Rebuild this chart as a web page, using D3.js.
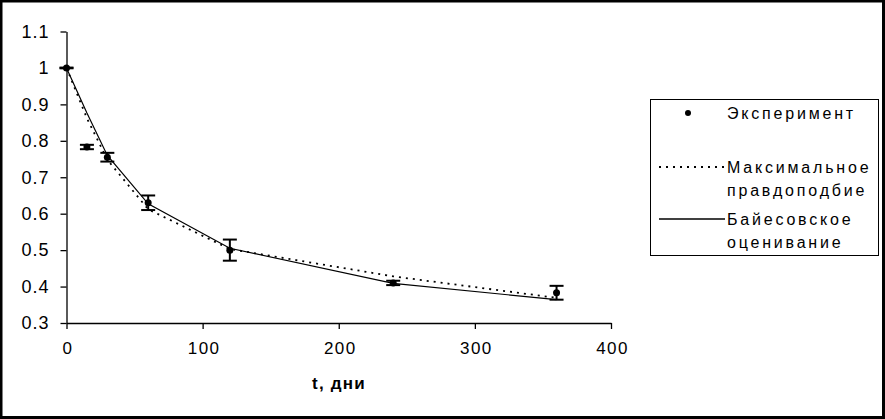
<!DOCTYPE html>
<html lang="ru">
<head>
<meta charset="UTF-8">
<title>chart</title>
<script src="https://cdn.jsdelivr.net/npm/d3@7/dist/d3.min.js"></script>
<style>
  body { margin: 0; background: #fff; }
  svg { display: block; }
  text { font-family: "Liberation Sans", Arial, sans-serif; fill: #000; }
</style>
</head>
<body>
<script>
// experimental times, days
var days = [0, 15, 30, 60, 120, 240, 360];
var experiment = [1.0, 0.783, 0.755, 0.630, 0.500, 0.410, 0.383];
var expError = [0.001, 0.006, 0.012, 0.020, 0.029, 0.006, 0.019];
var maxLikelihood = [1.0, 0.862, 0.748, 0.612, 0.503, 0.428, 0.369];
var bayes = [1.0, 0.876, 0.760, 0.627, 0.505, 0.409, 0.364];

var xTicks = [0, 100, 200, 300, 400];
var yTicks = [0.3, 0.4, 0.5, 0.6, 0.7, 0.8, 0.9, 1, 1.1];
var legendLabels = [["Эксперимент"], ["Максимальное", "правдоподбие"], ["Байесовское", "оценивание"]];

var width = 885, height = 419;

var svg = d3.select('body').append('svg').attr('width', width).attr('height', height);

// outer frame
svg.append('rect').attr('x', 1).attr('y', 1).attr('width', width - 2.5).attr('height', height - 2.5)
   .attr('fill', '#fff').attr('stroke', '#000').attr('stroke-width', 3);

var xScale = d3.scaleLinear().domain([0, 400]).range([66.5, 611]);
var yScale = d3.scaleLinear().domain([0.3, 1.1]).range([323, 31.5]);

var xAxis = svg.append('g').attr('transform', 'translate(0,' + yScale(0.3) + ')')
   .call(d3.axisBottom(xScale).tickValues(xTicks).tickSize(6).tickSizeOuter(0).tickFormat(d3.format('d')));
var yAxis = svg.append('g').attr('transform', 'translate(' + xScale(0) + ',0)')
   .call(d3.axisLeft(yScale).tickValues(yTicks).tickSize(6).tickSizeOuter(0).tickFormat(function(d){ return String(+d.toFixed(1)); }));

[xAxis, yAxis].forEach(function(g){
  g.select('.domain').attr('stroke', '#000').attr('stroke-width', 1.3);
  g.selectAll('.tick line').attr('stroke', '#000').attr('stroke-width', 1.3);
  g.selectAll('.tick text').style('font-family', '"Liberation Sans", Arial, sans-serif').attr('fill', '#000');
});
xAxis.selectAll('.tick line').attr('y1', 0).attr('y2', 6);
xAxis.selectAll('.tick text').style('font-size', '17px').style('letter-spacing', '1.4px')
  .attr('dy', '0.71em').attr('y', 19).attr('dx', 1);
yAxis.selectAll('.tick text').style('font-size', '18px').style('letter-spacing', '1px').attr('x', -17);

svg.append('text').attr('x', 339).attr('y', 389).attr('text-anchor', 'middle')
   .style('font-size', '17px').style('font-weight', 'bold').style('letter-spacing', '1.2px').text('t, дни');

var line = function(vals){
  return d3.line().x(function(d, i){ return xScale(days[i]); }).y(function(d){ return yScale(d); })(vals);
};

svg.append('path').attr('d', line(maxLikelihood)).attr('fill', 'none')
   .attr('stroke', '#000').attr('stroke-width', 1.8).attr('stroke-dasharray', '2,5');
svg.append('path').attr('d', line(bayes)).attr('fill', 'none')
   .attr('stroke', '#000').attr('stroke-width', 1.2);

// error bars
var eb = svg.append('g');
days.forEach(function(t, i){
  var x = xScale(t), top = yScale(experiment[i] + expError[i]), bot = yScale(experiment[i] - expError[i]);
  eb.append('line').attr('x1', x).attr('x2', x).attr('y1', top).attr('y2', bot).attr('stroke', '#000').attr('stroke-width', 2);
  [top, bot].forEach(function(y){
    eb.append('line').attr('x1', x - 7).attr('x2', x + 7).attr('y1', y).attr('y2', y).attr('stroke', '#000').attr('stroke-width', 2);
  });
  eb.append('circle').attr('cx', x).attr('cy', yScale(experiment[i])).attr('r', 3.5).attr('fill', '#000');
});

// legend
var lg = svg.append('g');
lg.append('rect').attr('x', 650.5).attr('y', 99.5).attr('width', 228).attr('height', 156)
  .attr('fill', '#fff').attr('stroke', '#000').attr('stroke-width', 1);
var rows = [113, 167, 219];
lg.append('circle').attr('cx', 688).attr('cy', rows[0]).attr('r', 3).attr('fill', '#000');
lg.append('line').attr('x1', 659).attr('x2', 725).attr('y1', rows[1]).attr('y2', rows[1])
  .attr('stroke', '#000').attr('stroke-width', 1.8).attr('stroke-dasharray', '2,5');
lg.append('line').attr('x1', 659).attr('x2', 725).attr('y1', rows[2]).attr('y2', rows[2])
  .attr('stroke', '#000').attr('stroke-width', 1.5);
legendLabels.forEach(function(lines, i){
  lines.forEach(function(s, j){
    lg.append('text').attr('x', 727).attr('y', rows[i] + j * 23).attr('dy', '0.35em')
      .style('font-size', '16px').style('letter-spacing', '2.8px').text(s);
  });
});
</script>
</body>
</html>
